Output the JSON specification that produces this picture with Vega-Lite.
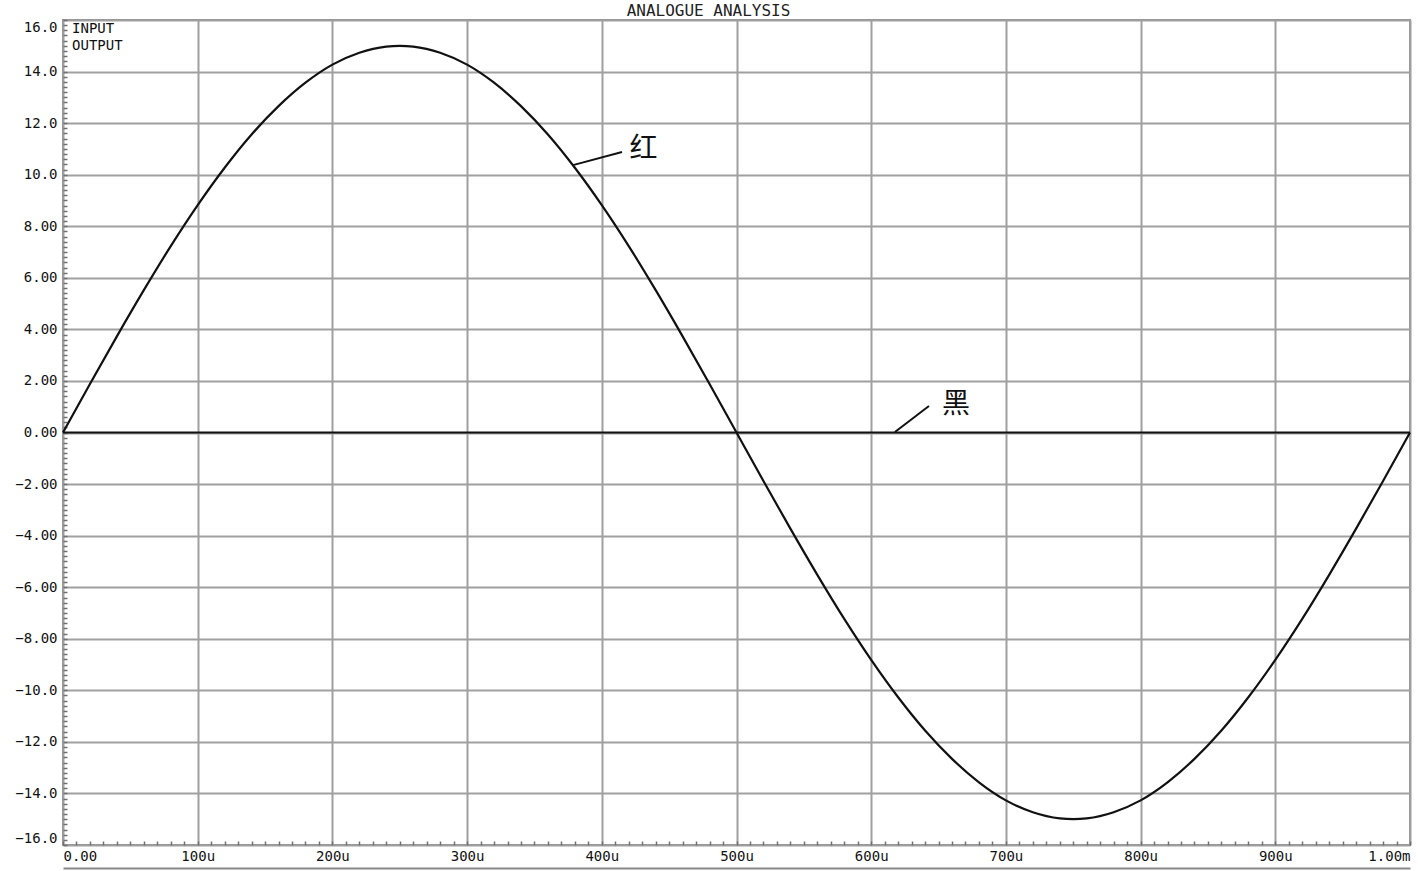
{
  "$schema": "https://vega.github.io/schema/vega-lite/v6.json",
  "width": 1347,
  "height": 825,
  "autosize": "none",
  "padding": {"left": 63, "top": 20, "right": 8, "bottom": 26},
  "background": "white",
  "title": {"text": "ANALOGUE ANALYSIS", "font": "DejaVu Sans Mono", "fontSize": 16, "fontWeight": "normal", "color": "#222222", "anchor": "middle", "frame": "group", "dx": -28, "dy": 22, "offset": 5, "baseline": "bottom"},
  "config": {
    "view": {"stroke": "#909090", "strokeWidth": 2},
    "axis": {"labelFont": "DejaVu Sans Mono", "labelFontSize": 14, "labelColor": "#111111", "domain": false, "title": null}
  },
  "datasets": {
    "wave": [
      {"t": 0, "v": 0}, {"t": 20, "v": 1.88}, {"t": 40, "v": 3.73}, {"t": 60, "v": 5.52}, {"t": 80, "v": 7.23},
      {"t": 100, "v": 8.82}, {"t": 120, "v": 10.27}, {"t": 140, "v": 11.56}, {"t": 160, "v": 12.66}, {"t": 180, "v": 13.57},
      {"t": 200, "v": 14.27}, {"t": 220, "v": 14.73}, {"t": 240, "v": 14.97}, {"t": 250, "v": 15.0}, {"t": 260, "v": 14.97},
      {"t": 280, "v": 14.73}, {"t": 300, "v": 14.27}, {"t": 320, "v": 13.57}, {"t": 340, "v": 12.66}, {"t": 360, "v": 11.56},
      {"t": 380, "v": 10.27}, {"t": 400, "v": 8.82}, {"t": 420, "v": 7.23}, {"t": 440, "v": 5.52}, {"t": 460, "v": 3.73},
      {"t": 480, "v": 1.88}, {"t": 500, "v": 0}, {"t": 520, "v": -1.88}, {"t": 540, "v": -3.73}, {"t": 560, "v": -5.52},
      {"t": 580, "v": -7.23}, {"t": 600, "v": -8.82}, {"t": 620, "v": -10.27}, {"t": 640, "v": -11.56}, {"t": 660, "v": -12.66},
      {"t": 680, "v": -13.57}, {"t": 700, "v": -14.27}, {"t": 720, "v": -14.73}, {"t": 740, "v": -14.97}, {"t": 750, "v": -15.0},
      {"t": 760, "v": -14.97}, {"t": 780, "v": -14.73}, {"t": 800, "v": -14.27}, {"t": 820, "v": -13.57}, {"t": 840, "v": -12.66},
      {"t": 860, "v": -11.56}, {"t": 880, "v": -10.27}, {"t": 900, "v": -8.82}, {"t": 920, "v": -7.23}, {"t": 940, "v": -5.52},
      {"t": 960, "v": -3.73}, {"t": 980, "v": -1.88}, {"t": 1000, "v": 0}
    ],
    "zero": [{"t": 0, "v": 0}, {"t": 1000, "v": 0}],
    "leaders": [
      {"t": 378.6, "v": 10.37, "t2": 415, "v2": 10.88},
      {"t": 617.6, "v": 0.02, "t2": 642.9, "v2": 1.03}
    ],
    "marks": [
      {"t": 431, "v": 10.97, "label": "红"},
      {"t": 663, "v": 1.08, "label": "黑"}
    ],
    "legend": [
      {"t": 6.7, "v": 15.65, "label": "INPUT"},
      {"t": 6.7, "v": 14.99, "label": "OUTPUT"}
    ]
  },
  "resolve": {"axis": {"x": "independent"}},
  "layer": [
    {
      "layer": [
        {
          "data": {"name": "wave"},
          "mark": {"type": "line", "color": "#111111", "strokeWidth": 2.2, "interpolate": "monotone"},
          "encoding": {
            "x": {"field": "t", "type": "quantitative", "scale": {"domain": [0, 1000], "nice": false, "zero": false},
              "axis": {
                "orient": "bottom",
                "tickCount": 500,
                "values": [0,10,20,30,40,50,60,70,80,90,100,110,120,130,140,150,160,170,180,190,200,210,220,230,240,250,260,270,280,290,300,310,320,330,340,350,360,370,380,390,400,410,420,430,440,450,460,470,480,490,500,510,520,530,540,550,560,570,580,590,600,610,620,630,640,650,660,670,680,690,700,710,720,730,740,750,760,770,780,790,800,810,820,830,840,850,860,870,880,890,900,910,920,930,940,950,960,970,980,990,1000],
                "labelExpr": "datum.value % 100 === 0 ? (datum.value === 0 ? '0.00' : (datum.value === 1000 ? '1.00m' : datum.value + 'u')) : ''",
                "labelOverlap": false,
                "labelFlush": true,
                "labelPadding": 8,
                "tickSize": -4,
                "tickColor": "#707070",
                "tickWidth": 1.5,
                "grid": true,
                "gridColor": "#a0a0a0",
                "gridWidth": 2,
                "gridOpacity": {"condition": {"test": "datum.value % 100 === 0", "value": 1}, "value": 0}
              }
            },
            "y": {"field": "v", "type": "quantitative", "scale": {"domain": [-16, 16], "nice": false, "zero": false},
              "axis": {
                "tickCount": 500,
                "values": [-16,-15.8,-15.6,-15.4,-15.2,-15,-14.8,-14.6,-14.4,-14.2,-14,-13.8,-13.6,-13.4,-13.2,-13,-12.8,-12.6,-12.4,-12.2,-12,-11.8,-11.6,-11.4,-11.2,-11,-10.8,-10.6,-10.4,-10.2,-10,-9.8,-9.6,-9.4,-9.2,-9,-8.8,-8.6,-8.4,-8.2,-8,-7.8,-7.6,-7.4,-7.2,-7,-6.8,-6.6,-6.4,-6.2,-6,-5.8,-5.6,-5.4,-5.2,-5,-4.8,-4.6,-4.4,-4.2,-4,-3.8,-3.6,-3.4,-3.2,-3,-2.8,-2.6,-2.4,-2.2,-2,-1.8,-1.6,-1.4,-1.2,-1,-0.8,-0.6,-0.4,-0.2,0,0.2,0.4,0.6,0.8,1,1.2,1.4,1.6,1.8,2,2.2,2.4,2.6,2.8,3,3.2,3.4,3.6,3.8,4,4.2,4.4,4.6,4.8,5,5.2,5.4,5.6,5.8,6,6.2,6.4,6.6,6.8,7,7.2,7.4,7.6,7.8,8,8.2,8.4,8.6,8.8,9,9.2,9.4,9.6,9.8,10,10.2,10.4,10.6,10.8,11,11.2,11.4,11.6,11.8,12,12.2,12.4,12.6,12.8,13,13.2,13.4,13.6,13.8,14,14.2,14.4,14.6,14.8,15,15.2,15.4,15.6,15.8,16],
                "labelExpr": "abs(round(datum.value * 10)) % 20 === 0 ? (abs(datum.value) >= 10 ? format(datum.value, '.1f') : format(datum.value, '.2f')) : ''",
                "labelOverlap": false,
                "labelFlush": true,
                "labelPadding": 10,
                "tickSize": -4,
                "tickColor": "#707070",
                "tickWidth": 1.5,
                "grid": true,
                "gridColor": "#a0a0a0",
                "gridWidth": 2,
                "gridOpacity": {"condition": {"test": "abs(round(datum.value * 10)) % 20 === 0", "value": 1}, "value": 0}
              }
            }
          }
        },
        {
          "data": {"name": "zero"},
          "mark": {"type": "line", "color": "#111111", "strokeWidth": 2.2},
          "encoding": {
            "x": {"field": "t", "type": "quantitative"},
            "y": {"field": "v", "type": "quantitative"}
          }
        },
        {
          "data": {"name": "leaders"},
          "mark": {"type": "rule", "color": "#111111", "strokeWidth": 2},
          "encoding": {
            "x": {"field": "t", "type": "quantitative"},
            "y": {"field": "v", "type": "quantitative"},
            "x2": {"field": "t2"},
            "y2": {"field": "v2"}
          }
        },
        {
          "data": {"name": "marks"},
          "mark": {"type": "text", "font": "Noto Sans CJK SC", "fontSize": 28, "color": "#111111", "align": "center", "baseline": "middle"},
          "encoding": {
            "x": {"field": "t", "type": "quantitative"},
            "y": {"field": "v", "type": "quantitative"},
            "text": {"field": "label"}
          }
        },
        {
          "data": {"name": "legend"},
          "mark": {"type": "text", "font": "DejaVu Sans Mono", "fontSize": 14, "color": "#111111", "align": "left", "baseline": "middle"},
          "encoding": {
            "x": {"field": "t", "type": "quantitative"},
            "y": {"field": "v", "type": "quantitative"},
            "text": {"field": "label"}
          }
        }
      ]
    },
    {
      "data": {"name": "zero"},
      "mark": {"type": "rule", "opacity": 0},
      "encoding": {
        "x": {"field": "t", "type": "quantitative",
          "axis": {"orient": "bottom", "offset": 23, "domain": true, "domainColor": "#888888", "domainWidth": 2, "ticks": false, "labels": false, "grid": false, "title": null}
        }
      }
    }
  ]
}
